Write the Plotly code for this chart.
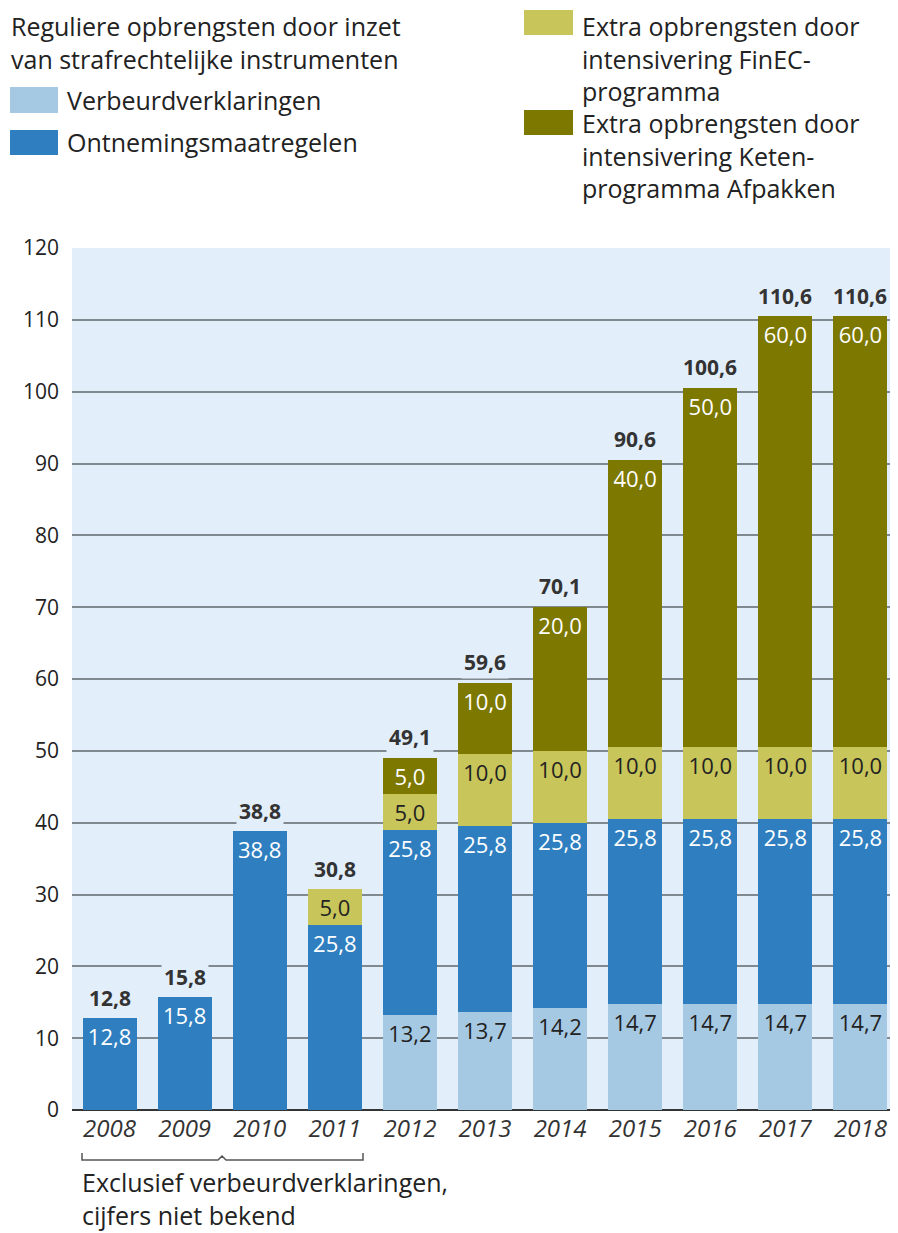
import plotly.graph_objects as go

YEARS = ["2008", "2009", "2010", "2011", "2012", "2013", "2014", "2015", "2016", "2017", "2018"]
VERBEURD = [None, None, None, None, 13.2, 13.7, 14.2, 14.7, 14.7, 14.7, 14.7]
ONTNEMING = [12.8, 15.8, 38.8, 25.8, 25.8, 25.8, 25.8, 25.8, 25.8, 25.8, 25.8]
FINEC = [None, None, None, 5.0, 5.0, 10.0, 10.0, 10.0, 10.0, 10.0, 10.0]
KETEN = [None, None, None, None, 5.0, 10.0, 20.0, 40.0, 50.0, 60.0, 60.0]
TOTALS = [12.8, 15.8, 38.8, 30.8, 49.1, 59.6, 70.1, 90.6, 100.6, 110.6, 110.6]
Y_TICKS = [0, 10, 20, 30, 40, 50, 60, 70, 80, 90, 100, 110, 120]

C_VERB = "#a6c9e3"
C_ONT = "#2f7fc0"
C_FIN = "#c8c55a"
C_KET = "#7d7800"
BG = "#e2eefa"
GRID = "#80898f"
TXT = "#222222"
FONT = "Open Sans"

# the page puts the figure 8px in from the top-left corner
OFF = 8
W, H = 898 - OFF, 1233 - OFF
L, R, T, B = 72 - OFF, 0, 248 - OFF, 1233 - 1110
PW, PH = W - L - R, H - T - B


def px(x):
    # reference pixel x -> paper
    return (x - OFF - L) / PW


def py(y):
    # reference pixel y -> paper
    return (H - B - (y - OFF)) / PH


def fmt(v):
    return f"{v:.1f}".replace(".", ",")


fig = go.Figure()

series = [
    ("Verbeurdverklaringen", VERBEURD, C_VERB, TXT),
    ("Ontnemingsmaatregelen", ONTNEMING, C_ONT, "white"),
    ("FinEC", FINEC, C_FIN, TXT),
    ("Keten", KETEN, C_KET, "white"),
]
for name, vals, color, tcolor in series:
    fig.add_trace(
        go.Bar(
            x=YEARS,
            y=vals,
            name=name,
            marker={"color": color, "line": {"width": 0}},
            text=[fmt(v) if v is not None else "" for v in vals],
            textposition="inside",
            insidetextanchor="end",
            constraintext="none",
            textfont={"family": FONT, "size": 22, "color": tcolor, "weight": 500},
            showlegend=False,
            hoverinfo="skip",
        )
    )

annotations = []
for i, tot in enumerate(TOTALS):
    annotations.append(
        dict(
            x=i, y=tot, xref="x", yref="y", text=fmt(tot), showarrow=False,
            yanchor="bottom", yshift=3, bgcolor=BG, borderpad=2,
            font={"family": FONT, "size": 21, "color": "#333333", "weight": 700},
        )
    )

# legend drawn by hand
shapes = []
legend_boxes = [
    (10, 87, 58, 113, C_VERB),
    (10, 130, 58, 155, C_ONT),
    (524, 10, 573, 35, C_FIN),
    (524, 110, 573, 135, C_KET),
]
for x0, y0, x1, y1, c in legend_boxes:
    shapes.append(
        dict(type="rect", xref="paper", yref="paper", x0=px(x0), x1=px(x1),
             y0=py(y1), y1=py(y0), fillcolor=c, line={"width": 0}, layer="above")
    )

# (x, y, vertical anchor, text)
legend_blocks = [
    (10, 8, "top", "Reguliere opbrengsten door inzet<br>van strafrechtelijke instrumenten"),
    (66, 100, "middle", "Verbeurdverklaringen"),
    (66, 142, "middle", "Ontnemingsmaatregelen"),
    (581, 8, "top", "Extra opbrengsten door<br>intensivering FinEC-<br>programma"),
    (581, 156, "middle", "Extra opbrengsten door<br>intensivering Keten-<br>programma Afpakken"),
    (81, 1233, "bottom", "Exclusief verbeurdverklaringen,<br>cijfers niet bekend"),
]
for x, y, anchor, t in legend_blocks:
    annotations.append(
        dict(x=px(x), y=py(y), xref="paper", yref="paper", text=t, showarrow=False,
             xanchor="left", yanchor=anchor, align="left", borderpad=0,
             font={"family": FONT, "size": 25, "color": TXT})
    )

# bracket below 2008-2011
bx0, bx1, bxm, by, bup = 82, 363, 222, 1160, 1153
path = (
    f"M {px(bx0)},{py(bup)} L {px(bx0)},{py(by)} L {px(bxm - 4)},{py(by)} "
    f"L {px(bxm)},{py(by - 4)} L {px(bxm + 4)},{py(by)} L {px(bx1)},{py(by)} L {px(bx1)},{py(bup)}"
)
shapes.append(dict(type="path", xref="paper", yref="paper", path=path,
                   line={"color": "#555555", "width": 1.5}))

fig.update_layout(
    barmode="stack",
    bargap=0.28,
    width=W,
    height=H,
    margin={"l": L, "r": R, "t": T, "b": B, "autoexpand": False},
    paper_bgcolor="white",
    plot_bgcolor=BG,
    font={"family": FONT, "color": TXT},
    separators=",.",
    shapes=shapes,
    annotations=annotations,
    showlegend=False,
)
fig.update_xaxes(
    type="category",
    range=[-0.5, len(YEARS) - 0.5],
    automargin=False,
    tickfont={"family": FONT, "size": 24, "color": "#333333", "style": "italic"},
    showgrid=False,
    ticks="",
    ticklabelstandoff=2,
)
fig.update_yaxes(
    range=[0, 120],
    automargin=False,
    tickvals=Y_TICKS,
    tickfont={"family": FONT, "size": 21, "color": TXT},
    showgrid=True,
    gridcolor=GRID,
    gridwidth=2,
    zeroline=True,
    zerolinecolor="#333333",
    zerolinewidth=2,
    ticks="",
    ticklabelstandoff=12,
)

fig.write_html("out.html")
